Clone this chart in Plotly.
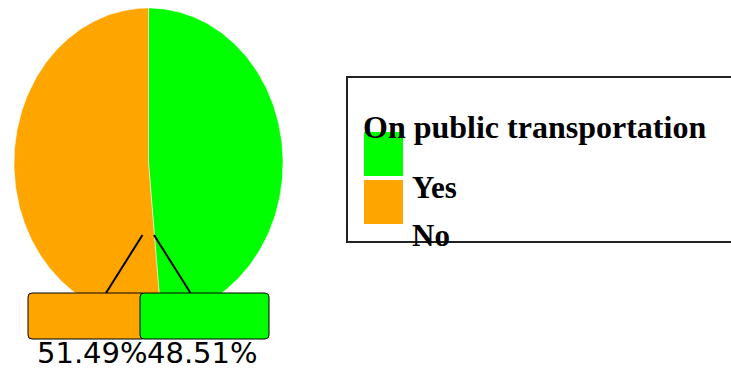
import numpy as np
import plotly.graph_objects as go

# Survey answers
categories = ["Yes", "No"]
shares = [48.51, 51.49]
colors = ["#00ff00", "#ffa500"]
legend_title = "On public transportation"

W, H = 731, 371

# Ellipse geometry (pixel space, y grows downward)
cx, cy, rx, ry = 148.5, 163.0, 134.5, 155.0

fig = go.Figure()

total = sum(shares)
start = 0.0
for cat, val, col in zip(categories, shares, colors):
    sweep = 360.0 * val / total
    ang = np.radians(np.linspace(start, start + sweep, 200))
    xs = np.concatenate([[cx], cx + rx * np.sin(ang), [cx]])
    ys = np.concatenate([[cy], cy - ry * np.cos(ang), [cy]])
    fig.add_trace(go.Scatter(
        x=xs, y=ys, mode="lines", fill="toself", fillcolor=col,
        line=dict(color="white", width=0.5), name=cat,
        hoverinfo="skip", showlegend=False,
    ))
    start += sweep


def rounded_rect(x0, y0, x1, y1, r):
    return (f"M{x0 + r},{y0} L{x1 - r},{y0} Q{x1},{y0} {x1},{y0 + r} "
            f"L{x1},{y1 - r} Q{x1},{y1} {x1 - r},{y1} L{x0 + r},{y1} "
            f"Q{x0},{y1} {x0},{y1 - r} L{x0},{y0 + r} Q{x0},{y0} {x0 + r},{y0} Z")


shapes = []
annotations = []

# Outside labels: leader lines, boxes and percentage text
label_boxes = {"No": (28, 293, 146, 339), "Yes": (140, 293, 269, 339)}
leaders = {"No": ((142.5, 235), (106, 293)), "Yes": ((154, 235), (190.5, 293))}
text_x = {"No": 92, "Yes": 202.5}

for cat in ["No", "Yes"]:
    (lx0, ly0), (lx1, ly1) = leaders[cat]
    shapes.append(dict(type="line", xref="x", yref="y", x0=lx0, y0=ly0, x1=lx1, y1=ly1,
                       line=dict(color="black", width=2)))
for cat in ["No", "Yes"]:
    col = colors[categories.index(cat)]
    bx0, by0, bx1, by1 = label_boxes[cat]
    shapes.append(dict(type="path", xref="x", yref="y", path=rounded_rect(bx0, by0, bx1, by1, 4),
                       fillcolor=col, line=dict(color="black", width=1)))
    val = shares[categories.index(cat)]
    annotations.append(dict(x=text_x[cat], y=353, xref="x", yref="y", text=f"{val:.2f}%",
                            showarrow=False, xanchor="center", yanchor="middle",
                            font=dict(family="DejaVu Sans", size=29, color="black")))

# Legend box
shapes.append(dict(type="rect", xref="x", yref="y", x0=347, y0=77, x1=740, y1=242,
                   line=dict(color="#222222", width=2), fillcolor="rgba(0,0,0,0)"))
annotations.append(dict(x=361, y=127, xref="x", yref="y", text=f"<b>{legend_title}</b>",
                        showarrow=False, xanchor="left", yanchor="middle",
                        font=dict(family="Liberation Serif", size=32, color="black")))
sw_y = {"Yes": (132, 176), "No": (180, 224)}
txt_y = {"Yes": 187, "No": 235}
for cat, col in zip(categories, colors):
    y0, y1 = sw_y[cat]
    shapes.append(dict(type="rect", xref="x", yref="y", x0=364, y0=y0, x1=403, y1=y1,
                       fillcolor=col, line=dict(width=0)))
    annotations.append(dict(x=410, y=txt_y[cat], xref="x", yref="y", text=f"<b>{cat}</b>",
                            showarrow=False, xanchor="left", yanchor="middle",
                            font=dict(family="Liberation Serif", size=31, color="black")))

fig.update_layout(
    width=W, height=H, margin=dict(l=0, r=0, t=0, b=0),
    paper_bgcolor="white", plot_bgcolor="white",
    xaxis=dict(range=[0, W], visible=False, fixedrange=True),
    yaxis=dict(range=[H, 0], visible=False, fixedrange=True),
    shapes=shapes, annotations=annotations, showlegend=False,
)

fig.write_html("out.html")
